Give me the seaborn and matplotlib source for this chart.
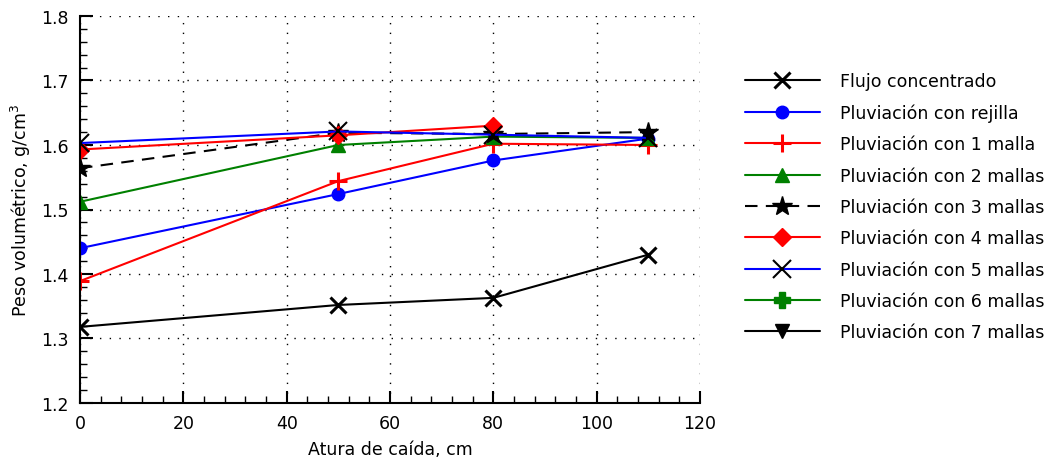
import numpy as np
import matplotlib
matplotlib.use("Agg")
import matplotlib.pyplot as plt
import seaborn as sns
from matplotlib.ticker import MultipleLocator, AutoMinorLocator

# Data
altura = [0, 50, 80, 110]
flujo_concentrado = [1.318, 1.352, 1.363, 1.430]
pluv_rejilla = [1.440, 1.524, 1.576, 1.610]
pluv_1_malla = [1.389, 1.544, 1.602, 1.600]
pluv_2_mallas = [1.512, 1.600, 1.613, 1.611]
pluv_3_mallas = [1.564, 1.619, 1.617, 1.620]
pluv_4_mallas = [1.593, 1.615, 1.630, np.nan]
pluv_5_mallas = [1.603, 1.621, 1.616, 1.611]
pluv_6_mallas = []
pluv_7_mallas = []

sns.set_style("ticks")
plt.rcParams['font.family'] = ['DejaVu Sans']
plt.rcParams.update({"text.color": "black", "axes.labelcolor": "black",
                     "xtick.color": "black", "ytick.color": "black",
                     "axes.edgecolor": "black"})

fig = plt.figure(figsize=(10.57, 4.77), dpi=100)
ax = fig.add_axes([80/1057, 73/477, 620/1057, 387/477])

series = [
    ("Flujo concentrado", flujo_concentrado, dict(color="black", marker="x", mec="black", ms=11, mew=2.2)),
    ("Pluviación con rejilla", pluv_rejilla, dict(color="blue", marker="o", mec="blue", ms=9, mew=1)),
    ("Pluviación con 1 malla", pluv_1_malla, dict(color="red", marker="+", mec="red", ms=13, mew=2.2)),
    ("Pluviación con 2 mallas", pluv_2_mallas, dict(color="green", marker="^", mec="green", ms=10, mew=1)),
    ("Pluviación con 3 mallas", pluv_3_mallas, dict(color="black", marker="*", mec="black", ms=15, mew=1, dashes=(6, 4))),
    ("Pluviación con 4 mallas", pluv_4_mallas, dict(color="red", marker="D", mec="red", ms=9, mew=1)),
    ("Pluviación con 5 mallas", pluv_5_mallas, dict(color="blue", marker="x", mec="black", ms=13, mew=1.5)),
]

for label, vals, kw in series:
    sns.lineplot(x=altura, y=vals, ax=ax, label=label, linewidth=1.5, **kw)

# series without visible points (legend entries only)
ax.plot(altura[:len(pluv_6_mallas)], pluv_6_mallas, color="green", marker="P",
        ms=11, mec="green", lw=1.5, label="Pluviación con 6 mallas")
ax.plot(altura[:len(pluv_7_mallas)], pluv_7_mallas, color="black", marker="v",
        ms=10, mec="black", lw=1.5, label="Pluviación con 7 mallas")

ax.set_xlim(0, 120)
ax.set_ylim(1.2, 1.8)
ax.xaxis.set_major_locator(MultipleLocator(20))
ax.xaxis.set_minor_locator(AutoMinorLocator(5))
ax.yaxis.set_major_locator(MultipleLocator(0.1))
ax.yaxis.set_minor_locator(AutoMinorLocator(5))
ax.tick_params(which="major", direction="in", length=9, width=1.5, labelsize=12.5, pad=8)
ax.tick_params(which="minor", direction="in", length=5, width=1)
ax.grid(True, which="major", linestyle=(0, (1, 6)), color="black", linewidth=1)
sns.despine(ax=ax)
ax.spines["left"].set_linewidth(1.5)
ax.spines["bottom"].set_linewidth(1.5)

ax.set_xlabel("Atura de caída, cm", fontsize=12.5, labelpad=6)
ax.set_ylabel("Peso volumétrico, g/cm$^3$", fontsize=12.5, labelpad=6)

handles, labels = ax.get_legend_handles_labels()
ax.get_legend().remove()
fig.legend(handles, labels, loc="upper left", bbox_to_anchor=(745/1057, 1 - 73/477),
           frameon=False, fontsize=12.5, handlelength=4.3, handletextpad=1.15,
           labelspacing=0.77, borderpad=0, borderaxespad=0)

fig.savefig("out.png", dpi=100)
